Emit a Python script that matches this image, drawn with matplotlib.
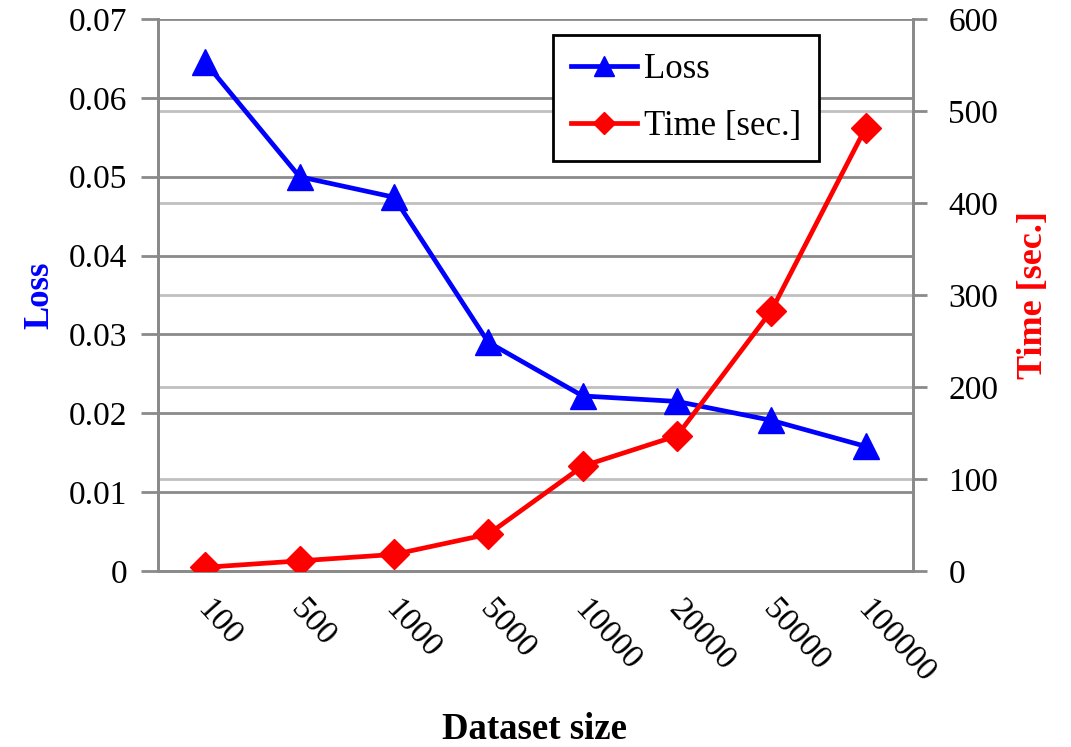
import matplotlib
matplotlib.use("Agg")
import matplotlib.pyplot as plt
import matplotlib.transforms as mtransforms
import numpy as np

categories = ["100", "500", "1000", "5000", "10000", "20000", "50000", "100000"]
loss = [0.0645, 0.0500, 0.0474, 0.0290, 0.0222, 0.0215, 0.0191, 0.0158]
time_sec = [4, 11, 18, 40, 114, 147, 283, 482]
loss_ticks = [0, 0.01, 0.02, 0.03, 0.04, 0.05, 0.06, 0.07]
loss_tick_labels = ["0", "0.01", "0.02", "0.03", "0.04", "0.05", "0.06", "0.07"]
time_ticks = [0, 100, 200, 300, 400, 500, 600]

plt.rcParams['font.family'] = ['Liberation Serif', 'DejaVu Serif']

W, H = 1071, 747
fig = plt.figure(figsize=(W / 100, H / 100), dpi=100)
l, r, b, t = 158, 913, 571, 19
ax = fig.add_axes([l / W, 1 - b / H, (r - l) / W, (b - t) / H])
ax2 = ax.twinx()

x = np.arange(len(categories))
ax.set_xlim(-0.5, len(categories) - 0.5)
ax.set_ylim(0, 0.07)
ax2.set_ylim(0, 600)

grid_dark = "#8a8a8a"
grid_light = "#c0c0c0"
for v in time_ticks[1:-1]:
    ax2.axhline(v, color=grid_light, lw=2.0, zorder=0)
for v in loss_ticks[1:]:
    ax.axhline(v, color=grid_dark, lw=2.0, zorder=0)

ax.set_yticks(loss_ticks)
ax.set_yticklabels(loss_tick_labels)
ax2.set_yticks(time_ticks)

ax.set_xticks(x)
ax.set_xticklabels(categories, rotation=-48, ha='left', va='top', rotation_mode='anchor')
ax.tick_params(axis='x', length=0, pad=17, labelsize=24)
ax.tick_params(axis='y', length=12, width=2, color=grid_dark, direction='out', labelsize=24, pad=10)
ax2.tick_params(axis='y', length=10, width=2, color=grid_dark, direction='out', labelsize=24, pad=15.5)

offset = mtransforms.ScaledTranslation(8 / 100, 0, fig.dpi_scale_trans)
for lab in ax.get_xticklabels():
    lab.set_transform(lab.get_transform() + offset)

for a in (ax, ax2):
    a.spines['top'].set_visible(False)
    for s in ['left', 'right', 'bottom']:
        a.spines[s].set_color(grid_dark)
        a.spines[s].set_linewidth(2.0)

ax.patch.set_visible(False)
ax.set_zorder(ax2.get_zorder() + 1)

h1, = ax.plot(x, loss, color="#0000ff", lw=3.4, marker='^', ms=19, label="Loss", zorder=3)
# the time series is drawn on the front axes, scaled through ax2's limits
time_scaled = np.array(time_sec) / ax2.get_ylim()[1] * ax.get_ylim()[1]
h2, = ax.plot(x, time_scaled, color="#ff0000", lw=3.4, marker='D', ms=15,
              label="Time [sec.]", zorder=3)

ax.set_ylabel("Loss", color="#0000ff", fontweight='bold', fontsize=25)
ax2.set_ylabel("Time [sec.]", color="#ff0000", fontweight='bold', fontsize=26)
ax.set_xlabel("Dataset size", fontweight='bold', fontsize=26.5)
ax.yaxis.set_label_coords((40 - l) / (r - l), 0.5)
ax.yaxis.label.set_verticalalignment('center')
ax2.yaxis.set_label_coords((1033 - l) / (r - l), 0.5)
ax2.yaxis.label.set_verticalalignment('center')
ax.xaxis.set_label_coords((535 - l) / (r - l), (b - 739) / (b - t))
ax.xaxis.label.set_verticalalignment('baseline')

leg = ax.legend(handles=[h1, h2], loc='upper left',
                bbox_to_anchor=((553 - l) / (r - l), (b - 35) / (b - t)), borderaxespad=0,
                fontsize=25, frameon=True, fancybox=False, framealpha=1, edgecolor='black',
                handlelength=1.9, handletextpad=0.2, borderpad=0.52, labelspacing=0.68,
                markerscale=0.75)
leg.get_frame().set_linewidth(2.0)

fig.savefig("out.png", dpi=100)
